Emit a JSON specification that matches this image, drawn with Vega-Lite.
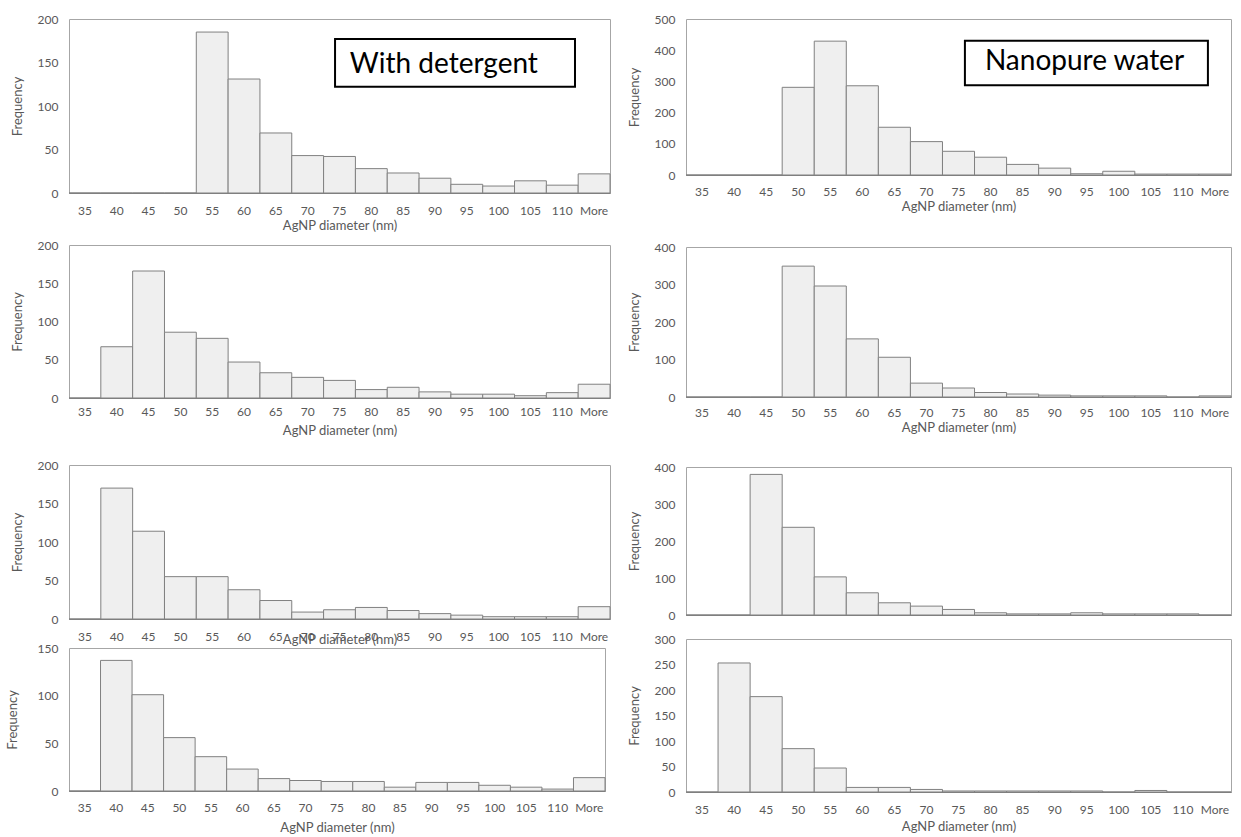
{
  "$schema": "https://vega.github.io/schema/vega-lite/v6.json",
  "background": "white",
  "padding": {"left": 5, "top": 12, "right": 0, "bottom": 0},
  "config": {
    "font": "Lato",
    "view": {"stroke": "#a6a6a6", "strokeWidth": 1},
    "scale": {"bandPaddingInner": 0, "bandPaddingOuter": 0, "barBandPaddingInner": 0},
    "bar": {"fill": "#efefef", "stroke": "#808080", "strokeWidth": 1},
    "axis": {
      "labelFont": "Lato", "labelFontSize": 12, "labelColor": "#595959", "labelOverlap": false,
      "titleFont": "Lato", "titleFontSize": 13, "titleColor": "#595959", "titleFontWeight": "normal",
      "ticks": false, "tickSize": 0, "grid": false
    },
    "axisX": {"labelAngle": 0, "domainColor": "#7f7f7f", "labelPadding": 12, "titlePadding": 3},
    "axisY": {"domain": false, "labelPadding": 11, "titlePadding": 13}
  },
  "datasets": {
    "detergent_1": [
      {"diameter": "35", "frequency": 0}, {"diameter": "40", "frequency": 0}, {"diameter": "45", "frequency": 0},
      {"diameter": "50", "frequency": 0}, {"diameter": "55", "frequency": 185}, {"diameter": "60", "frequency": 131},
      {"diameter": "65", "frequency": 69}, {"diameter": "70", "frequency": 43}, {"diameter": "75", "frequency": 42},
      {"diameter": "80", "frequency": 28}, {"diameter": "85", "frequency": 23}, {"diameter": "90", "frequency": 17},
      {"diameter": "95", "frequency": 10}, {"diameter": "100", "frequency": 8}, {"diameter": "105", "frequency": 14},
      {"diameter": "110", "frequency": 9}, {"diameter": "More", "frequency": 22}
    ],
    "detergent_2": [
      {"diameter": "35", "frequency": 0}, {"diameter": "40", "frequency": 67}, {"diameter": "45", "frequency": 166},
      {"diameter": "50", "frequency": 86}, {"diameter": "55", "frequency": 78}, {"diameter": "60", "frequency": 47},
      {"diameter": "65", "frequency": 33}, {"diameter": "70", "frequency": 27}, {"diameter": "75", "frequency": 23},
      {"diameter": "80", "frequency": 11}, {"diameter": "85", "frequency": 14}, {"diameter": "90", "frequency": 8},
      {"diameter": "95", "frequency": 5}, {"diameter": "100", "frequency": 5}, {"diameter": "105", "frequency": 3},
      {"diameter": "110", "frequency": 7}, {"diameter": "More", "frequency": 18}
    ],
    "detergent_3": [
      {"diameter": "35", "frequency": 0}, {"diameter": "40", "frequency": 170}, {"diameter": "45", "frequency": 114},
      {"diameter": "50", "frequency": 55}, {"diameter": "55", "frequency": 55}, {"diameter": "60", "frequency": 38},
      {"diameter": "65", "frequency": 24}, {"diameter": "70", "frequency": 9}, {"diameter": "75", "frequency": 12},
      {"diameter": "80", "frequency": 15}, {"diameter": "85", "frequency": 11}, {"diameter": "90", "frequency": 7},
      {"diameter": "95", "frequency": 5}, {"diameter": "100", "frequency": 3}, {"diameter": "105", "frequency": 3},
      {"diameter": "110", "frequency": 3}, {"diameter": "More", "frequency": 16}
    ],
    "detergent_4": [
      {"diameter": "35", "frequency": 0}, {"diameter": "40", "frequency": 137}, {"diameter": "45", "frequency": 101},
      {"diameter": "50", "frequency": 56}, {"diameter": "55", "frequency": 36}, {"diameter": "60", "frequency": 23},
      {"diameter": "65", "frequency": 13}, {"diameter": "70", "frequency": 11}, {"diameter": "75", "frequency": 10},
      {"diameter": "80", "frequency": 10}, {"diameter": "85", "frequency": 4}, {"diameter": "90", "frequency": 9},
      {"diameter": "95", "frequency": 9}, {"diameter": "100", "frequency": 6}, {"diameter": "105", "frequency": 4},
      {"diameter": "110", "frequency": 2}, {"diameter": "More", "frequency": 14}
    ],
    "water_1": [
      {"diameter": "35", "frequency": 0}, {"diameter": "40", "frequency": 0}, {"diameter": "45", "frequency": 0},
      {"diameter": "50", "frequency": 281}, {"diameter": "55", "frequency": 429}, {"diameter": "60", "frequency": 286},
      {"diameter": "65", "frequency": 153}, {"diameter": "70", "frequency": 107}, {"diameter": "75", "frequency": 76},
      {"diameter": "80", "frequency": 57}, {"diameter": "85", "frequency": 34}, {"diameter": "90", "frequency": 22},
      {"diameter": "95", "frequency": 4}, {"diameter": "100", "frequency": 12}, {"diameter": "105", "frequency": 3},
      {"diameter": "110", "frequency": 3}, {"diameter": "More", "frequency": 3}
    ],
    "water_2": [
      {"diameter": "35", "frequency": 0}, {"diameter": "40", "frequency": 0}, {"diameter": "45", "frequency": 0},
      {"diameter": "50", "frequency": 349}, {"diameter": "55", "frequency": 296}, {"diameter": "60", "frequency": 155},
      {"diameter": "65", "frequency": 106}, {"diameter": "70", "frequency": 37}, {"diameter": "75", "frequency": 24},
      {"diameter": "80", "frequency": 12}, {"diameter": "85", "frequency": 8}, {"diameter": "90", "frequency": 5},
      {"diameter": "95", "frequency": 3}, {"diameter": "100", "frequency": 3}, {"diameter": "105", "frequency": 3},
      {"diameter": "110", "frequency": 0}, {"diameter": "More", "frequency": 3}
    ],
    "water_3": [
      {"diameter": "35", "frequency": 0}, {"diameter": "40", "frequency": 0}, {"diameter": "45", "frequency": 380},
      {"diameter": "50", "frequency": 237}, {"diameter": "55", "frequency": 103}, {"diameter": "60", "frequency": 60},
      {"diameter": "65", "frequency": 33}, {"diameter": "70", "frequency": 24}, {"diameter": "75", "frequency": 15},
      {"diameter": "80", "frequency": 6}, {"diameter": "85", "frequency": 3}, {"diameter": "90", "frequency": 3},
      {"diameter": "95", "frequency": 6}, {"diameter": "100", "frequency": 3}, {"diameter": "105", "frequency": 3},
      {"diameter": "110", "frequency": 3}, {"diameter": "More", "frequency": 0}
    ],
    "water_4": [
      {"diameter": "35", "frequency": 0}, {"diameter": "40", "frequency": 253}, {"diameter": "45", "frequency": 187},
      {"diameter": "50", "frequency": 85}, {"diameter": "55", "frequency": 47}, {"diameter": "60", "frequency": 9},
      {"diameter": "65", "frequency": 9}, {"diameter": "70", "frequency": 5}, {"diameter": "75", "frequency": 2},
      {"diameter": "80", "frequency": 2}, {"diameter": "85", "frequency": 2}, {"diameter": "90", "frequency": 2},
      {"diameter": "95", "frequency": 2}, {"diameter": "100", "frequency": 0}, {"diameter": "105", "frequency": 3},
      {"diameter": "110", "frequency": 0}, {"diameter": "More", "frequency": 0}
    ]
  },
  "hconcat": [
    {
      "spacing": 5,
      "vconcat": [
        {
          "width": 541, "height": 174,
          "data": {"name": "detergent_1"},
          "resolve": {"scale": {"x": "independent"}, "axis": {"x": "independent"}},
          "layer": [
            {
              "mark": "bar",
              "encoding": {
                "x": {"field": "diameter", "type": "ordinal", "scale": {"domain": ["35","40","45","50","55","60","65","70","75","80","85","90","95","100","105","110","More"]}, "axis": {"title": "AgNP diameter (nm)", "labelPadding": 12, "titlePadding": 3}},
                "y": {"field": "frequency", "type": "quantitative", "scale": {"domain": [0, 200], "nice": false}, "axis": {"title": "Frequency", "values": [0, 50, 100, 150, 200]}}
              }
            },
            {
              "data": {"values": [{"label": "With detergent"}]},
              "mark": {"type": "rect", "fill": "white", "stroke": "black", "strokeWidth": 2},
              "encoding": {
                "x": {"datum": 8.36, "type": "quantitative", "scale": {"domain": [0, 17]}, "axis": null},
                "x2": {"datum": 15.9},
                "y": {"datum": 177, "type": "quantitative", "axis": {"title": "Frequency", "values": [0, 50, 100, 150, 200]}},
                "y2": {"datum": 122}
              }
            },
            {
              "data": {"values": [{"label": "With detergent"}]},
              "mark": {"type": "text", "font": "Lato", "fontSize": 28, "color": "black", "align": "center", "baseline": "alphabetic"},
              "encoding": {
                "x": {"datum": 11.78, "type": "quantitative", "scale": {"domain": [0, 17]}, "axis": null},
                "y": {"datum": 138, "type": "quantitative", "axis": {"title": "Frequency", "values": [0, 50, 100, 150, 200]}},
                "text": {"field": "label"}
              }
            }
          ]
        },
        {
          "spacing": 20,
          "vconcat": [
            {
              "width": 541, "height": 153,
              "data": {"name": "detergent_2"},
              "mark": "bar",
              "encoding": {
                "x": {"field": "diameter", "type": "ordinal", "scale": {"domain": ["35","40","45","50","55","60","65","70","75","80","85","90","95","100","105","110","More"]}, "axis": {"title": "AgNP diameter (nm)", "labelPadding": 8, "titlePadding": 7}},
                "y": {"field": "frequency", "type": "quantitative", "scale": {"domain": [0, 200], "nice": false}, "axis": {"title": "Frequency", "values": [0, 50, 100, 150, 200]}}
              }
            },
            {
              "spacing": -6,
              "vconcat": [
                {
                  "width": 541, "height": 154,
                  "data": {"name": "detergent_3"},
                  "mark": "bar",
                  "encoding": {
                    "x": {"field": "diameter", "type": "ordinal", "scale": {"domain": ["35","40","45","50","55","60","65","70","75","80","85","90","95","100","105","110","More"]}, "axis": {"title": "AgNP diameter (nm)", "labelPadding": 12, "titlePadding": -9}},
                    "y": {"field": "frequency", "type": "quantitative", "scale": {"domain": [0, 200], "nice": false}, "axis": {"title": "Frequency", "values": [0, 50, 100, 150, 200]}}
                  }
                },
                {
                  "width": 536, "height": 143,
                  "data": {"name": "detergent_4"},
                  "mark": "bar",
                  "encoding": {
                    "x": {"field": "diameter", "type": "ordinal", "scale": {"domain": ["35","40","45","50","55","60","65","70","75","80","85","90","95","100","105","110","More"]}, "axis": {"title": "AgNP diameter (nm)", "labelPadding": 11, "titlePadding": 8}},
                    "y": {"field": "frequency", "type": "quantitative", "scale": {"domain": [0, 150], "nice": false}, "axis": {"title": "Frequency", "values": [0, 50, 100, 150], "titlePadding": 18}}
                  }
                }
              ]
            }
          ]
        }
      ]
    },
    {
      "spacing": 26,
      "vconcat": [
        {
          "width": 545, "height": 156,
          "data": {"name": "water_1"},
          "resolve": {"scale": {"x": "independent"}, "axis": {"x": "independent"}},
          "layer": [
            {
              "mark": "bar",
              "encoding": {
                "x": {"field": "diameter", "type": "ordinal", "scale": {"domain": ["35","40","45","50","55","60","65","70","75","80","85","90","95","100","105","110","More"]}, "axis": {"title": "AgNP diameter (nm)", "labelPadding": 11, "titlePadding": 3}},
                "y": {"field": "frequency", "type": "quantitative", "scale": {"domain": [0, 500], "nice": false}, "axis": {"title": "Frequency", "values": [0, 100, 200, 300, 400, 500]}}
              }
            },
            {
              "data": {"values": [{"label": "Nanopure water"}]},
              "mark": {"type": "rect", "fill": "white", "stroke": "black", "strokeWidth": 2},
              "encoding": {
                "x": {"datum": 8.7, "type": "quantitative", "scale": {"domain": [0, 17]}, "axis": null},
                "x2": {"datum": 16.28},
                "y": {"datum": 430, "type": "quantitative", "axis": {"title": "Frequency", "values": [0, 100, 200, 300, 400, 500]}},
                "y2": {"datum": 288}
              }
            },
            {
              "data": {"values": [{"label": "Nanopure water"}]},
              "mark": {"type": "text", "font": "Lato", "fontSize": 28, "color": "black", "align": "center", "baseline": "alphabetic"},
              "encoding": {
                "x": {"datum": 12.43, "type": "quantitative", "scale": {"domain": [0, 17]}, "axis": null},
                "y": {"datum": 337, "type": "quantitative", "axis": {"title": "Frequency", "values": [0, 100, 200, 300, 400, 500]}},
                "text": {"field": "label"}
              }
            }
          ]
        },
        {
          "spacing": 25,
          "vconcat": [
            {
              "width": 545, "height": 150,
              "data": {"name": "water_2"},
              "mark": "bar",
              "encoding": {
                "x": {"field": "diameter", "type": "ordinal", "scale": {"domain": ["35","40","45","50","55","60","65","70","75","80","85","90","95","100","105","110","More"]}, "axis": {"title": "AgNP diameter (nm)", "labelPadding": 10, "titlePadding": 3}},
                "y": {"field": "frequency", "type": "quantitative", "scale": {"domain": [0, 400], "nice": false}, "axis": {"title": "Frequency", "values": [0, 100, 200, 300, 400]}}
              }
            },
            {
              "spacing": 10,
              "vconcat": [
                {
                  "width": 545, "height": 148,
                  "data": {"name": "water_3"},
                  "mark": "bar",
                  "encoding": {
                    "x": {"field": "diameter", "type": "ordinal", "scale": {"domain": ["35","40","45","50","55","60","65","70","75","80","85","90","95","100","105","110","More"]}, "axis": {"title": null, "labels": false}},
                    "y": {"field": "frequency", "type": "quantitative", "scale": {"domain": [0, 400], "nice": false}, "axis": {"title": "Frequency", "values": [0, 100, 200, 300, 400]}}
                  }
                },
                {
                  "width": 545, "height": 153,
                  "data": {"name": "water_4"},
                  "mark": "bar",
                  "encoding": {
                    "x": {"field": "diameter", "type": "ordinal", "scale": {"domain": ["35","40","45","50","55","60","65","70","75","80","85","90","95","100","105","110","More"]}, "axis": {"title": "AgNP diameter (nm)", "labelPadding": 12, "titlePadding": 5}},
                    "y": {"field": "frequency", "type": "quantitative", "scale": {"domain": [0, 300], "nice": false}, "axis": {"title": "Frequency", "values": [0, 50, 100, 150, 200, 250, 300]}}
                  }
                }
              ]
            }
          ]
        }
      ]
    }
  ],
  "spacing": 16
}
